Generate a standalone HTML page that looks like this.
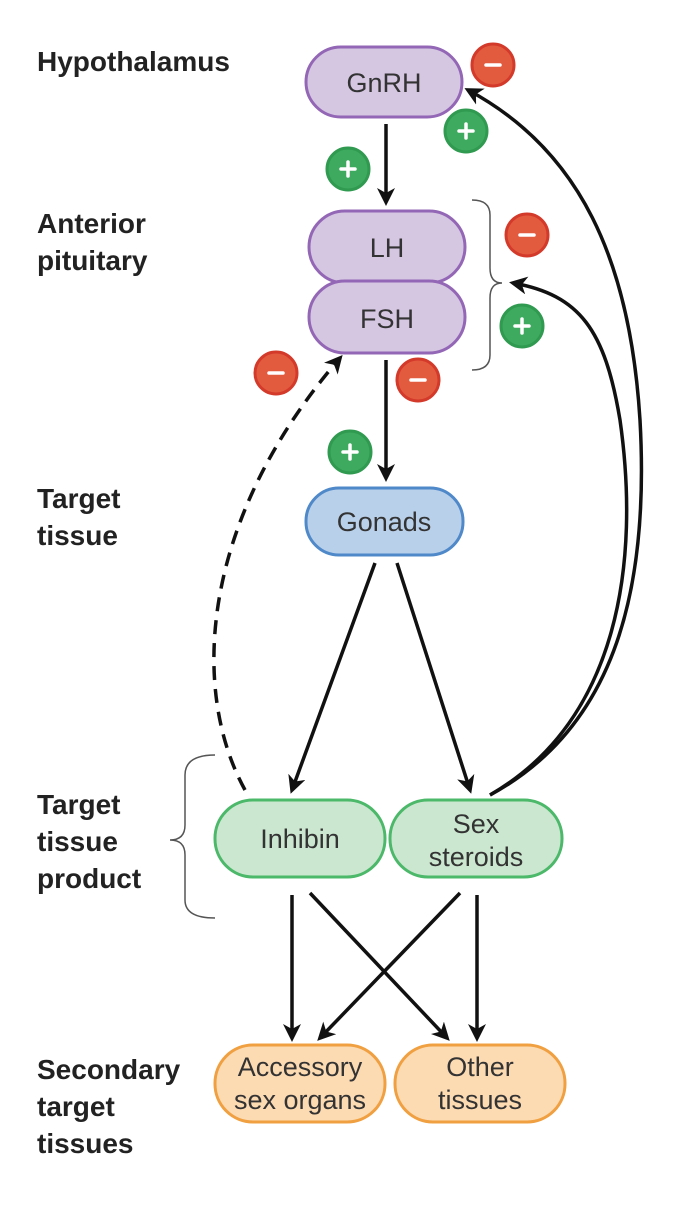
<!DOCTYPE html>
<html><head><style>
body{margin:0;background:#fff;}
svg text{font-family:"Liberation Sans",sans-serif;}
</style></head><body>
<svg width="696" height="1200" viewBox="0 0 696 1200" xmlns="http://www.w3.org/2000/svg">
<defs>
<marker id="ah2" markerWidth="18" markerHeight="18" refX="14" refY="9" orient="auto" markerUnits="userSpaceOnUse" viewBox="0 0 18 18">
<path d="M0,0 L18,9 L0,18 L5,9 Z" fill="#111"/>
</marker>
</defs>
<g font-weight="bold" font-size="28" fill="#222">
<text x="37" y="71">Hypothalamus</text>
<text x="37" y="233">Anterior</text><text x="37" y="270">pituitary</text>
<text x="37" y="508">Target</text><text x="37" y="545">tissue</text>
<text x="37" y="814">Target</text><text x="37" y="851">tissue</text><text x="37" y="888">product</text>
<text x="37" y="1079">Secondary</text><text x="37" y="1116">target</text><text x="37" y="1153">tissues</text>
</g>
<!-- braces -->
<g stroke="#555" stroke-width="1.5" fill="none">
<path d="M472,200 Q490,200 490,215 L490,268 Q490,283 502,283 Q490,283 490,298 L490,355 Q490,370 472,370"/>
<path d="M215,755 Q185,755 185,775 L185,825 Q185,840 170,840 Q185,840 185,855 L185,900 Q185,918 215,918"/>
</g>
<!-- boxes -->
<g stroke-width="3">
<rect x="306" y="47" width="156" height="70" rx="35" fill="#d5c6e2" stroke="#9367b5"/>
<rect x="309" y="211" width="156" height="72" rx="36" fill="#d5c6e2" stroke="#9367b5"/>
<rect x="309" y="281" width="156" height="72" rx="36" fill="#d5c6e2" stroke="#9367b5"/>
<rect x="306" y="488" width="157" height="67" rx="33" fill="#b9d0ea" stroke="#4f89c9"/>
<rect x="215" y="800" width="170" height="77" rx="38" fill="#cbe7cf" stroke="#4cb86a"/>
<rect x="390" y="800" width="172" height="77" rx="38" fill="#cbe7cf" stroke="#4cb86a"/>
<rect x="215" y="1045" width="170" height="77" rx="38" fill="#fcdab2" stroke="#f0a040"/>
<rect x="395" y="1045" width="170" height="77" rx="38" fill="#fcdab2" stroke="#f0a040"/>
</g>
<!-- arrows -->
<g stroke="#111" stroke-width="3.5" fill="none">
<line x1="386" y1="124" x2="386" y2="202" marker-end="url(#ah2)"/>
<line x1="386" y1="360" x2="386" y2="478" marker-end="url(#ah2)"/>
<line x1="375" y1="563" x2="292" y2="790" marker-end="url(#ah2)"/>
<line x1="397" y1="563" x2="470" y2="790" marker-end="url(#ah2)"/>
<line x1="292" y1="895" x2="292" y2="1038" marker-end="url(#ah2)"/>
<line x1="310" y1="893" x2="447" y2="1038" marker-end="url(#ah2)"/>
<line x1="460" y1="893" x2="320" y2="1038" marker-end="url(#ah2)"/>
<line x1="477" y1="895" x2="477" y2="1038" marker-end="url(#ah2)"/>
<path d="M490,795 C610,730 650,600 640,420 C630,260 580,150 468,90" marker-end="url(#ah2)"/>
<path d="M490,795 C620,720 640,560 620,420 C605,330 580,295 513,283" marker-end="url(#ah2)"/>
<path d="M245,790 C190,690 200,520 340,358" stroke-dasharray="14,9" marker-end="url(#ah2)"/>
</g>
<g font-size="27" fill="#333" text-anchor="middle">
<text x="384" y="92">GnRH</text>
<text x="387" y="257">LH</text>
<text x="387" y="328">FSH</text>
<text x="384" y="531">Gonads</text>
<text x="300" y="848">Inhibin</text>
<text x="476" y="833">Sex</text><text x="476" y="866">steroids</text>
<text x="300" y="1076">Accessory</text><text x="300" y="1109">sex organs</text>
<text x="480" y="1076">Other</text><text x="480" y="1109">tissues</text>
</g>
<!-- signs -->
<g stroke-width="3">
<g fill="#e35b3f" stroke="#d43a2a">
<circle cx="493" cy="65" r="21"/><circle cx="527" cy="235" r="21"/>
<circle cx="276" cy="373" r="21"/><circle cx="418" cy="380" r="21"/>
</g>
<g fill="#3daa5f" stroke="#2f9a50">
<circle cx="466" cy="131" r="21"/><circle cx="348" cy="169" r="21"/>
<circle cx="522" cy="326" r="21"/><circle cx="350" cy="452" r="21"/>
</g>
</g>
<g stroke="#fff" stroke-width="3.5" stroke-linecap="round">
<line x1="486" y1="65" x2="500" y2="65"/><line x1="520" y1="235" x2="534" y2="235"/>
<line x1="269" y1="373" x2="283" y2="373"/><line x1="411" y1="380" x2="425" y2="380"/>
<line x1="459" y1="131" x2="473" y2="131"/><line x1="466" y1="124" x2="466" y2="138"/>
<line x1="341" y1="169" x2="355" y2="169"/><line x1="348" y1="162" x2="348" y2="176"/>
<line x1="515" y1="326" x2="529" y2="326"/><line x1="522" y1="319" x2="522" y2="333"/>
<line x1="343" y1="452" x2="357" y2="452"/><line x1="350" y1="445" x2="350" y2="459"/>
</g>
</svg>
</body></html>
